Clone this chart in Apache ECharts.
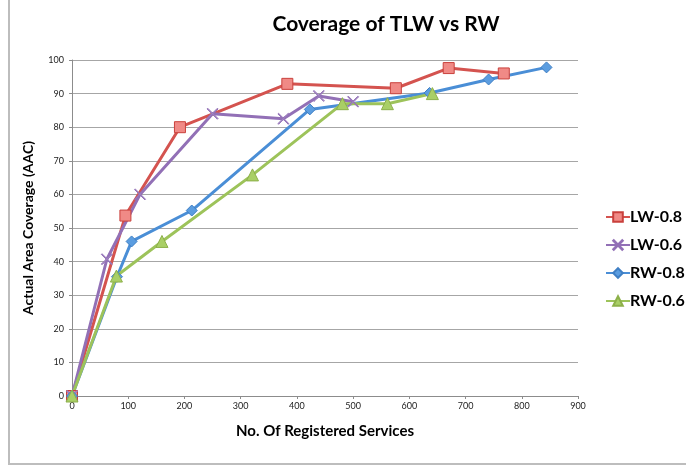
<!DOCTYPE html>
<html>
<head>
<meta charset="utf-8">
<script src="https://cdn.jsdelivr.net/npm/echarts@6/dist/echarts.min.js"></script>
<style>
  html, body { margin: 0; padding: 0; background: #fff; }
  #main { width: 686px; height: 470px; }
</style>
</head>
<body>
<div id="main"></div>
<script>
// data
var lw08 = [[0, 0], [95, 53.7], [192, 80], [383, 92.9], [576, 91.6], [670, 97.6], [768, 96]];
var lw06 = [[0, 0], [62, 40.7], [121, 60], [250, 84], [376, 82.5], [439, 89.3], [500, 87.6]];
var rw08 = [[0, 0], [80, 35.5], [106, 46], [213, 55.2], [423, 85.3], [636, 90.2], [741, 94.2], [844, 97.8]];
var rw06 = [[0, 0], [79, 35.7], [160, 46], [321, 65.8], [481, 87], [561, 87], [641, 90]];
var names = ['LW-0.8', 'LW-0.6', 'RW-0.8', 'RW-0.6'];

var font = 'Lato, "Open Sans", sans-serif';
// thin X marker
var crossPath = 'path://M0,0.6L0.6,0L5,4.4L9.4,0L10,0.6L5.6,5L10,9.4L9.4,10L5,5.6L0.6,10L0,9.4L4.4,5Z';

function mkSeries(name, data, lineColor, symbol, size, fill, border) {
    return {
        name: name,
        type: 'line',
        data: data,
        symbol: symbol,
        symbolSize: size,
        showAllSymbol: true,
        lineStyle: { color: lineColor, width: 3 },
        itemStyle: { color: fill, borderColor: border, borderWidth: 1 },
        emphasis: { disabled: true }
    };
}

var myChart = echarts.init(document.getElementById('main'));
var option = {
    animation: false,
    backgroundColor: '#fff',
    textStyle: { fontFamily: font },
    graphic: [{
        type: 'rect',
        shape: { x: 9, y: -5, width: 700, height: 469 },
        style: { fill: 'none', stroke: '#bdbdbd', lineWidth: 2 },
        silent: true
    }],
    title: {
        text: 'Coverage of TLW vs RW',
        left: 381,
        top: 9,
        textAlign: 'center',
        textStyle: { fontFamily: font, fontSize: 21, fontWeight: 'bold', color: '#000' }
    },
    legend: {
        orient: 'vertical',
        left: 600,
        top: 204,
        itemGap: 12,
        itemWidth: 24,
        itemHeight: 12,
        data: names,
        textStyle: { fontFamily: font, fontSize: 16, fontWeight: 'bold', color: '#000', padding: [0, 0, 0, -5] }
    },
    grid: { left: 72, right: 108, top: 60, bottom: 74 },
    xAxis: {
        type: 'value',
        min: 0, max: 900, interval: 100,
        name: 'No. Of Registered Services',
        nameLocation: 'middle',
        nameGap: 28,
        nameTextStyle: { fontFamily: font, fontSize: 15, fontWeight: 'bold', color: '#000' },
        axisLine: { show: true, lineStyle: { color: '#8c8c8c', width: 1 } },
        axisTick: { show: true, length: 3, lineStyle: { color: '#8c8c8c' } },
        axisLabel: { fontSize: 9, color: '#222', margin: 6 },
        splitLine: { show: false }
    },
    yAxis: {
        type: 'value',
        min: 0, max: 100, interval: 10,
        name: 'Actual Area Coverage (AAC)',
        nameLocation: 'middle',
        nameGap: 37,
        nameTextStyle: { fontFamily: font, fontSize: 14, fontWeight: 'bold', color: '#000' },
        axisLine: { show: true, lineStyle: { color: '#8c8c8c', width: 1 } },
        axisTick: { show: true, length: 3, lineStyle: { color: '#8c8c8c' } },
        axisLabel: { fontSize: 9, color: '#222', margin: 8 },
        splitLine: { show: true, lineStyle: { color: '#a6a6a6', width: 1 } }
    },
    series: [
        mkSeries(names[0], lw08, '#d4534f', 'rect', 11, '#f08a86', '#c9403c'),
        mkSeries(names[1], lw06, '#9270b6', crossPath, 11, '#b39cd0', '#9270b6'),
        mkSeries(names[2], rw08, '#4a8ed6', 'diamond', 11, '#5b9de0', '#3f7fc4'),
        mkSeries(names[3], rw06, '#9dc35a', 'triangle', 12, '#a9cf66', '#8db04a')
    ]
};
myChart.setOption(option);
</script>
</body>
</html>
